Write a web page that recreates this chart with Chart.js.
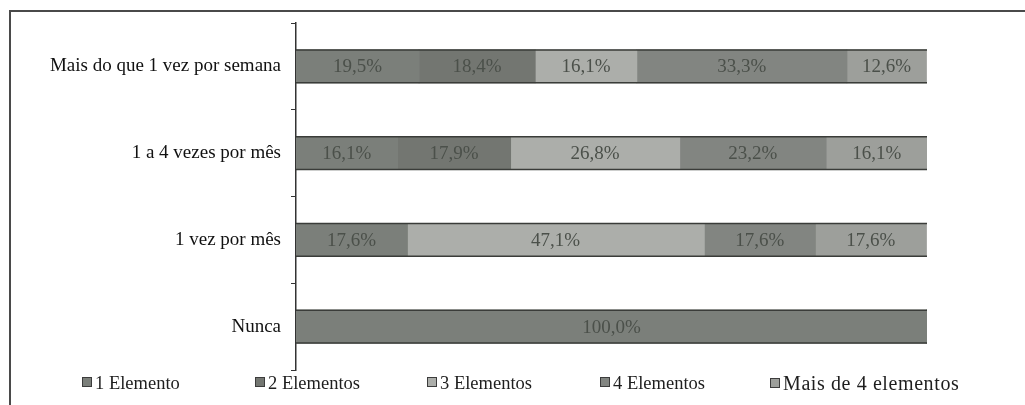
<!DOCTYPE html>
<html>
<head>
<meta charset="utf-8">
<script src="https://cdn.jsdelivr.net/npm/chart.js@4"></script>
<style>
  html, body { margin: 0; padding: 0; background: #fff; }
  #wrap { position: relative; width: 1025px; height: 405px; overflow: hidden; }
  #moldura { position: absolute; left: 9px; top: 10px; width: 1030px; height: 410px;
             border-left: 2px solid #4a4a4a; border-top: 2px solid #4a4a4a; }
  #grafico { position: absolute; left: 0; top: 0; }
  #legenda { position: absolute; top: 372px; left: 0; width: 1025px; height: 24px;
             font-family: "Liberation Serif", serif; font-size: 18.5px; color: #1e1e1e; }
  #legenda span.item { position: absolute; white-space: nowrap; line-height: 22px; }
  #legenda span.largo { font-size: 20px; letter-spacing: 0.6px; }
  #legenda i { display: inline-block; width: 8px; height: 8px; margin-right: 3px;
               border: 1px solid #3c3c3c; vertical-align: 2px; letter-spacing: 0; }
</style>
</head>
<body>
<div id="wrap">
  <div id="moldura"></div>
  <canvas id="grafico" width="1025" height="405"></canvas>
  <div id="legenda"></div>
</div>
<script>
const categorias = ['Mais do que 1 vez por semana', '1 a 4 vezes por mês', '1 vez por mês', 'Nunca'];
const series = ['1 Elemento', '2 Elementos', '3 Elementos', '4 Elementos', 'Mais de 4 elementos'];

const umElemento = [19.5, 16.1, 17.6, 100.0];
const doisElementos = [18.4, 17.9, 0, 0];
const tresElementos = [16.1, 26.8, 47.1, 0];
const quatroElementos = [33.3, 23.2, 17.6, 0];
const maisDeQuatro = [12.6, 16.1, 17.6, 0];

const cores = ['#7b7f7a', '#737671', '#acaeaa', '#828581', '#9d9f9b'];
const valores = [umElemento, doisElementos, tresElementos, quatroElementos, maisDeQuatro];

// contorno superior e inferior de cada barra empilhada, sem costuras entre segmentos
const contorno = {
  id: 'contorno',
  afterDatasetsDraw(chart) {
    const ctx = chart.ctx;
    const x = chart.scales.x;
    ctx.save();
    ctx.strokeStyle = '#3a3c39';
    ctx.lineWidth = 1.5;
    categorias.forEach((c, j) => {
      const barra = chart.getDatasetMeta(0).data[j];
      const topo = barra.y - barra.height / 2;
      const base = barra.y + barra.height / 2;
      ctx.beginPath();
      ctx.moveTo(x.getPixelForValue(0), topo);
      ctx.lineTo(x.getPixelForValue(100), topo);
      ctx.moveTo(x.getPixelForValue(0), base);
      ctx.lineTo(x.getPixelForValue(100), base);
      ctx.stroke();
    });
    ctx.restore();
  }
};

// rótulos de percentagem no meio de cada segmento
const rotulos = {
  id: 'rotulos',
  afterDatasetsDraw(chart) {
    const ctx = chart.ctx;
    ctx.save();
    ctx.font = '19px "Liberation Serif", serif';
    ctx.fillStyle = '#4b504a';
    ctx.textAlign = 'center';
    ctx.textBaseline = 'middle';
    chart.data.datasets.forEach((ds, i) => {
      chart.getDatasetMeta(i).data.forEach((barra, j) => {
        const v = ds.data[j];
        if (!v) return;
        const x = (barra.x + barra.base) / 2;
        ctx.fillText(v.toFixed(1).replace('.', ',') + '%', x, barra.y + 1);
      });
    });
    ctx.restore();
  }
};

const grafico = new Chart(document.getElementById('grafico'), {
  type: 'bar',
  data: {
    labels: categorias,
    datasets: series.map((nome, i) => ({
      label: nome,
      data: valores[i],
      backgroundColor: cores[i],
      borderWidth: 0,
      inflateAmount: 0.5,
      barPercentage: 0.38,
      categoryPercentage: 1
    }))
  },
  options: {
    indexAxis: 'y',
    responsive: false,
    animation: false,
    layout: { padding: { top: 23, right: 98, bottom: 35, left: 0 } },
    plugins: {
      legend: { display: false },
      tooltip: { enabled: false }
    },
    scales: {
      x: { stacked: true, min: 0, max: 100, display: false },
      y: {
        stacked: true,
        afterFit(escala) { escala.width = 296; },
        border: { display: true, color: '#333', width: 1.5 },
        grid: { display: true, drawOnChartArea: false, drawTicks: true, tickLength: 5, color: '#333', offset: true },
        ticks: { color: '#111', padding: 10, font: { family: '"Liberation Serif", serif', size: 19 } }
      }
    }
  },
  plugins: [contorno, rotulos]
});

// legenda em linha, itens igualmente espaçados
const posLegenda = [82, 255, 427, 600, 770];
const legenda = document.getElementById('legenda');
series.forEach((nome, i) => {
  const item = document.createElement('span');
  item.className = i === series.length - 1 ? 'item largo' : 'item';
  item.style.left = posLegenda[i] + 'px';
  item.innerHTML = '<i style="background:' + cores[i] + '"></i>' + nome;
  legenda.appendChild(item);
});
</script>
</body>
</html>
